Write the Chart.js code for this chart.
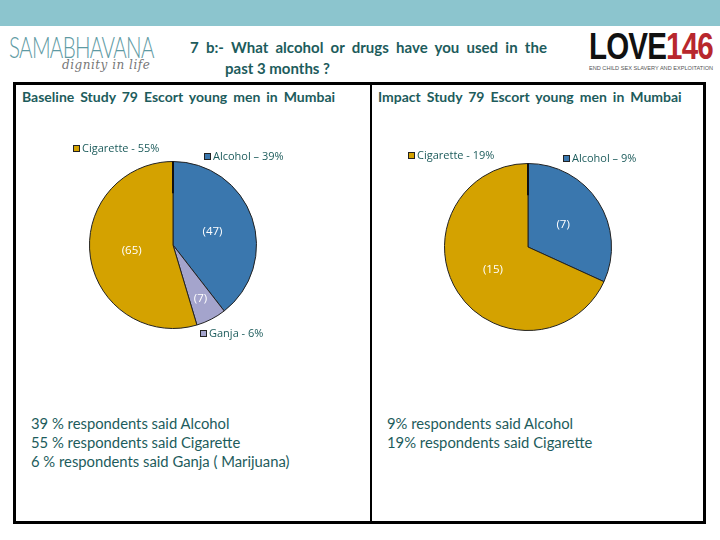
<!DOCTYPE html>
<html>
<head>
<meta charset="utf-8">
<script src="https://cdn.jsdelivr.net/npm/chart.js@4.4.1/dist/chart.umd.min.js"></script>
<style>
  html, body { margin:0; padding:0; background:#fff; }
  body { width:720px; height:540px; position:relative; overflow:hidden; font-family:"Lato", "Open Sans", sans-serif; color:#1d5c5c; }
  .abs { position:absolute; white-space:nowrap; }
  #band { left:0; top:0; width:720px; height:26px; background:#8cc5ce; }
  #box { left:13px; top:82px; width:687px; height:436px; border:3px solid #000; box-sizing:content-box; }
  #divider { left:370px; top:82px; width:2px; height:440px; background:#000; }
  .title { font-size:15px; font-weight:700; color:#1d5c5c; }
  .head { font-size:14px; font-weight:700; color:#1d5c5c; word-spacing:2.6px; }
  .body { font-size:14.8px; color:#1d5c5c; line-height:19px; }
  canvas { position:absolute; }
</style>
</head>
<body>
<div id="band" class="abs"></div>

<!-- logos -->
<div class="abs" style="left:9px;top:29px;font-family:'Lato';font-weight:300;font-size:29px;letter-spacing:-1px;color:#5e9aa3;transform:scaleX(0.71);transform-origin:left top;">SAMABHAVANA</div>
<div class="abs" style="left:62px;top:58px;font-family:'DejaVu Serif';font-style:italic;font-size:12px;color:#777;letter-spacing:0.5px;">dignity in life</div>
<div class="abs" style="left:589px;top:29px;font-family:'Liberation Sans';font-weight:700;font-size:36px;color:#111;letter-spacing:-1px;line-height:36px;transform:scaleX(0.82);transform-origin:left top;">LOVE<span style="color:#b8272d;">146</span></div>
<div class="abs" style="left:589px;top:65px;font-family:'Liberation Sans';font-size:5.6px;color:#555;">END CHILD SEX SLAVERY AND EXPLOITATION</div>

<!-- title -->
<div class="abs title" style="left:190px;top:38px;word-spacing:3.6px;">7 b:- What alcohol or drugs have you used in the</div>
<div class="abs title" style="left:225px;top:59px;">past 3 months ?</div>

<div id="box" class="abs"></div>
<div id="divider" class="abs"></div>

<div class="abs head" style="left:22px;top:88px;">Baseline Study 79 Escort young men in Mumbai</div>
<div class="abs head" style="left:378px;top:88px;">Impact Study 79 Escort young men in Mumbai</div>

<canvas id="c1" width="355" height="235" style="left:15px;top:120px;"></canvas>
<canvas id="c2" width="330" height="235" style="left:372px;top:120px;"></canvas>

<div class="abs body" style="left:31px;top:414px;">39 % respondents said Alcohol<br>55 % respondents said Cigarette<br>6 % respondents said Ganja ( Marijuana)</div>
<div class="abs body" style="left:387px;top:414px;">9% respondents said Alcohol<br>19% respondents said Cigarette</div>

<script>
// ---- data ----
const baselineCategories = ["Alcohol", "Ganja", "Cigarette"];
const baselineCounts = [47, 7, 65];
const baselinePercents = ["39%", "6%", "55%"];

const impactCategories = ["Alcohol", "Cigarette"];
const impactCounts = [7, 15];
const impactPercents = ["9%", "19%"];

const colorMap = { Alcohol: "#3a77ae", Ganja: "#a4a4cc", Cigarette: "#d4a200" };
const dashMap = { Alcohol: "\u2013", Ganja: "-", Cigarette: "-" };

// label placement (offsets from pie centre, in px)
const baselineLegendOffsets = { Alcohol: [31, -89], Ganja: [27, 88], Cigarette: [-100, -97] };
const impactLegendOffsets = { Alcohol: [35, -89], Cigarette: [-120, -92] };

function labelPlugin(cats, pcts, offsets) {
  return {
    id: 'pieLabels',
    afterDatasetsDraw(chart) {
      const ctx = chart.ctx;
      const meta = chart.getDatasetMeta(0);
      const arc0 = meta.data[0];
      const cx = arc0.x, cy = arc0.y, r = arc0.outerRadius;
      const data = chart.data.datasets[0].data;
      const total = data.reduce((a, b) => a + b, 0);
      ctx.save();
      // dark seam at top (start of first slice)
      ctx.strokeStyle = '#111';
      ctx.lineWidth = 2;
      ctx.beginPath();
      ctx.moveTo(cx, cy - r);
      ctx.lineTo(cx, cy - r * 0.62);
      ctx.stroke();
      // count labels inside slices
      ctx.font = '11.5px "Open Sans", "Lato", sans-serif';
      ctx.fillStyle = '#ffffff';
      ctx.textAlign = 'center';
      ctx.textBaseline = 'middle';
      meta.data.forEach((arc, i) => {
        const mid = (arc.startAngle + arc.endAngle) / 2;
        const frac = data[i] / total < 0.1 ? 0.72 : 0.5;
        const x = cx + Math.cos(mid) * r * frac;
        const y = cy + Math.sin(mid) * r * frac;
        ctx.fillText('(' + data[i] + ')', x, y);
      });
      // outside legend-like labels
      ctx.font = '11px "Open Sans", "Lato", sans-serif';
      ctx.textAlign = 'left';
      cats.forEach((c, i) => {
        const off = offsets[c];
        const sx = cx + off[0], sy = cy + off[1];
        ctx.fillStyle = colorMap[c];
        ctx.fillRect(sx, sy - 3, 6, 6);
        ctx.strokeStyle = '#222';
        ctx.lineWidth = 1;
        ctx.strokeRect(sx + 0.5, sy - 2.5, 6, 6);
        ctx.fillStyle = '#1d5c5c';
        ctx.fillText(c + ' ' + dashMap[c] + ' ' + pcts[i], sx + 9, sy + 0.5);
      });
      ctx.restore();
    }
  };
}

function makePie(id, cats, counts, pcts, offsets, pad) {
  new Chart(document.getElementById(id), {
    type: 'pie',
    data: {
      labels: cats,
      datasets: [{
        data: counts,
        backgroundColor: cats.map(c => colorMap[c]),
        borderColor: '#222',
        borderWidth: 1
      }]
    },
    options: {
      responsive: false,
      animation: false,
      layout: { padding: pad },
      plugins: { legend: { display: false }, tooltip: { enabled: false } }
    },
    plugins: [labelPlugin(cats, pcts, offsets)]
  });
}

// pie 1 centre ~ (173,245) page; canvas origin (15,120) -> (158,125) r 84
makePie('c1', baselineCategories, baselineCounts, baselinePercents, baselineLegendOffsets,
  { left: 74, right: 355 - 158 - 84, top: 125 - 84, bottom: 235 - 125 - 84 });
// pie 2 centre ~ (528,247) page; canvas origin (372,120) -> (156,127) r 84
makePie('c2', impactCategories, impactCounts, impactPercents, impactLegendOffsets,
  { left: 72, right: 330 - 156 - 84, top: 127 - 84, bottom: 235 - 127 - 84 });
</script>
</body>
</html>
